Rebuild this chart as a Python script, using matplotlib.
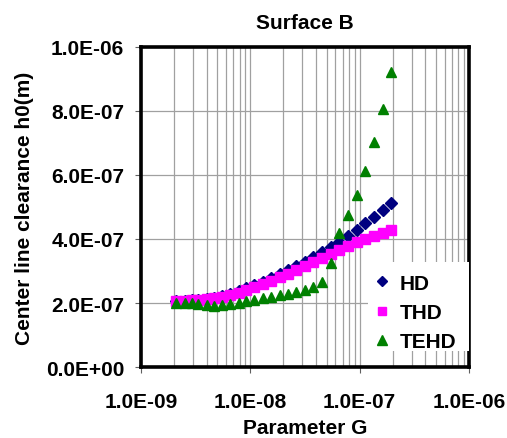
import matplotlib
matplotlib.use("Agg")
import matplotlib.pyplot as plt
from matplotlib.ticker import FuncFormatter, LogLocator, FixedLocator
from matplotlib.patches import Rectangle

# Data
G = [2.09e-9, 2.52e-9, 2.94e-9, 3.34e-9, 3.98e-9, 4.64e-9, 5.5e-9, 6.5e-9, 7.8e-9,
     9.2e-9, 1.09e-8, 1.31e-8, 1.55e-8, 1.85e-8, 2.2e-8, 2.64e-8, 3.17e-8, 3.78e-8,
     4.53e-8, 5.43e-8, 6.5e-8, 7.8e-8, 9.4e-8, 1.13e-7, 1.35e-7, 1.62e-7, 1.95e-7]
HD = [2.07, 2.07, 2.08, 2.10, 2.13, 2.17, 2.22, 2.29, 2.37, 2.46, 2.56, 2.66, 2.78,
      2.90, 3.02, 3.15, 3.29, 3.44, 3.59, 3.75, 3.92, 4.09, 4.29, 4.49, 4.69, 4.91, 5.13]
THD = [2.07, 2.07, 2.08, 2.09, 2.11, 2.15, 2.19, 2.25, 2.32, 2.41, 2.49, 2.58, 2.69,
       2.80, 2.91, 3.03, 3.16, 3.27, 3.41, 3.53, 3.67, 3.79, 3.90, 4.01, 4.09, 4.18, 4.27]
TEHD = [1.99, 1.99, 1.99, 1.97, 1.94, 1.92, 1.94, 1.97, 2.00, 2.06, 2.09, 2.15, 2.20,
        2.25, 2.29, 2.35, 2.41, 2.50, 2.66, 3.26, 4.18, 4.76, 5.39, 6.14, 7.02, 8.06, 9.21]
HD = [v * 1e-7 for v in HD]
THD = [v * 1e-7 for v in THD]
TEHD = [v * 1e-7 for v in TEHD]

x_ticks = [1e-9, 1e-8, 1e-7, 1e-6]
y_ticks = [0.0, 2e-7, 4e-7, 6e-7, 8e-7, 1e-6]

plt.rcParams['font.family'] = ['Liberation Sans', 'DejaVu Sans']
plt.rcParams['font.weight'] = 'bold'

fig = plt.figure(figsize=(5.07, 4.39), dpi=100)
ax = fig.add_axes([141/507, 1-368/439, (469-141)/507, (368-48)/439])

ax.set_xscale('log')
ax.set_xlim(1e-9, 1e-6)
ax.set_ylim(0, 1e-6)

ax.plot(G, HD, linestyle='none', marker='D', color='#000080', markersize=6, label='HD', zorder=3)
ax.plot(G, THD, linestyle='none', marker='s', color='#FF00FF', markersize=6.5, label='THD', zorder=3)
ax.plot(G, TEHD, linestyle='none', marker='^', color='#008000', markersize=7.5, label='TEHD', zorder=3)

ax.xaxis.set_major_locator(FixedLocator(x_ticks))
ax.xaxis.set_minor_locator(LogLocator(base=10, subs=range(2, 10)))
ax.yaxis.set_major_locator(FixedLocator(y_ticks))
fmt = FuncFormatter(lambda v, p: f"{v:.1E}")
ax.xaxis.set_major_formatter(fmt)
ax.yaxis.set_major_formatter(fmt)
ax.xaxis.set_minor_formatter(FuncFormatter(lambda v, p: ""))

ax.grid(True, which='major', axis='both', color='#a0a0a0', linewidth=0.9, zorder=0)
ax.grid(True, which='minor', axis='x', color='#a0a0a0', linewidth=0.9, zorder=0)
ax.set_axisbelow(True)

for s in ax.spines.values():
    s.set_linewidth(2.6)
    s.set_color('black')

ax.tick_params(axis='both', which='major', direction='out', length=4, width=0.8,
               labelsize=15, color='#606060')
ax.tick_params(axis='x', which='major', pad=14)
ax.tick_params(axis='y', which='major', pad=8)
ax.tick_params(axis='x', which='minor', length=0)

ax.set_title('Surface B', fontsize=15, fontweight='bold', pad=14)
ax.set_xlabel('Parameter G', fontsize=15, fontweight='bold', labelpad=5)
ax.set_ylabel('Center line clearance h0(m)', fontsize=15, fontweight='bold')
ax.yaxis.set_label_coords(-0.327, 0.5)

# white legend background box
ax.add_patch(Rectangle((0.692, 0.05), 1 - 0.692, 0.328 - 0.05, transform=ax.transAxes,
                       facecolor='white', edgecolor='none', zorder=4))

leg = ax.legend(loc='upper left', bbox_to_anchor=(0.709, 0.292), borderaxespad=0,
                frameon=False, fontsize=15, handlelength=0.8, handletextpad=0.45,
                labelspacing=0.5, borderpad=0, markerscale=0.9)
leg.set_zorder(5)
for t in leg.get_texts():
    t.set_fontweight('bold')

fig.savefig('out.png', dpi=100)
